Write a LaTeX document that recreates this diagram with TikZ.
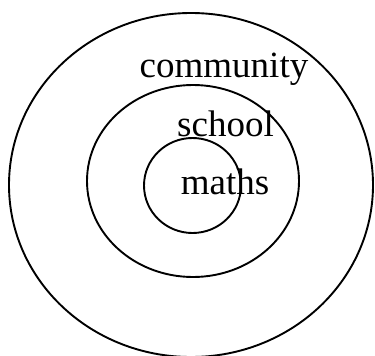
\documentclass[tikz,border=0pt]{standalone}
\usepackage{fontspec}
\setmainfont{Liberation Serif}
\usetikzlibrary{shapes.geometric}

\begin{document}
\begin{tikzpicture}[
    x=1pt, y=-1pt,
    ring/.style={
        ellipse, draw=black, line width=1.9pt, inner sep=0pt
    },
    lbl/.style={
        anchor=base, inner sep=0pt, font=\fontsize{37}{44}\selectfont
    }
]
\useasboundingbox (0,0) rectangle (375,356);
\begin{scope}
\clip (0,0) rectangle (375,356);
% Rings, outermost first
\node[ring, minimum width=364pt, minimum height=344pt] (outer)  at (191,185)   {};
\node[ring, minimum width=212pt, minimum height=192pt] (middle) at (193,181)   {};
\node[ring, minimum width=97pt,  minimum height=95pt]  (inner)  at (192.5,185.5) {};
\end{scope}

% Labels
\node[lbl] (community) at (224,77)    {community};
\node[lbl] (school)    at (225.5,136) {school};
\node[lbl] (maths)     at (225,194)   {maths};
\end{tikzpicture}
\end{document}
